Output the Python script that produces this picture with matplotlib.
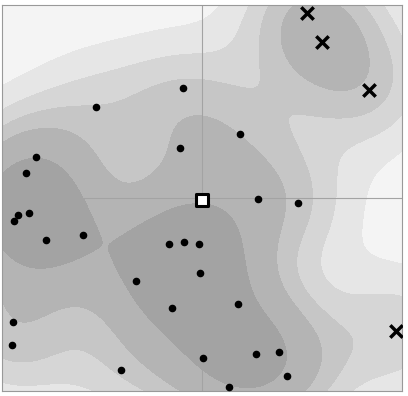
import numpy as np
import matplotlib
matplotlib.use("Agg")
import matplotlib.pyplot as plt

# observed points (dots)
dot_x = [-0.095, -0.53, 0.19, -0.11, -0.83, -0.88, -0.865, -0.92, -0.94, -0.78,
         -0.595, 0.28, 0.48, -0.165, -0.09, -0.015, -0.01, -0.33, -0.15, 0.18,
         0.005, 0.27, 0.385, 0.425, 0.135, -0.945, -0.95, -0.405]
dot_y = [0.57, 0.47, 0.33, 0.26, 0.21, 0.13, -0.08, -0.09, -0.12, -0.22,
         -0.19, -0.005, -0.026, -0.24, -0.23, -0.24, -0.39, -0.43, -0.57, -0.55,
         -0.83, -0.81, -0.80, -0.92, -0.98, -0.64, -0.76, -0.89]

# crosses
cross_x = [0.525, 0.60, 0.835, 0.97]
cross_y = [0.96, 0.81, 0.56, -0.69]

# square marker
sq_x = [0.0]
sq_y = [-0.01]

greys = ['#f4f4f4', '#e6e6e6', '#d6d6d6', '#c6c6c6', '#b4b4b4', '#a3a3a3']
levels = [0, 0.58, 1.18, 1.78, 2.47, 3.85, 100]

# density field (gaussian kernels on all points)
xs = np.linspace(-1, 1, 400)
ys = np.linspace(-1, 1, 400)
X, Y = np.meshgrid(xs, ys)
bw = 0.24
Z = np.zeros_like(X)
for px, py in zip(dot_x, dot_y):
    Z += np.exp(-((X - px) ** 2 + (Y - py) ** 2) / (2 * bw ** 2))
for px, py in zip(cross_x, cross_y):
    Z += 1.5 * np.exp(-((X - px) ** 2 + (Y - py) ** 2) / (2 * bw ** 2))

fig = plt.figure(figsize=(4.08, 3.96), dpi=100)
ax = fig.add_axes([2 / 408, 5 / 396, 400 / 408, 386 / 396])
ax.contourf(X, Y, Z, levels=levels, colors=greys)
ax.axvline(0, color='#a3a3a3', lw=0.8)
ax.axhline(0, color='#a3a3a3', lw=0.8)

ax.scatter(dot_x, dot_y, s=20, c='black', zorder=3)
ax.scatter(cross_x, cross_y, s=80, marker='x', c='black', linewidths=2.5, zorder=3)
ax.scatter(sq_x, sq_y, s=80, marker='s', facecolor='white', edgecolor='black',
           linewidths=2.2, zorder=4)

ax.set_xlim(-1, 1)
ax.set_ylim(-1, 1)
ax.set_xticks([])
ax.set_yticks([])
for s in ax.spines.values():
    s.set_color('#999999')

fig.savefig('out.png', dpi=100)
